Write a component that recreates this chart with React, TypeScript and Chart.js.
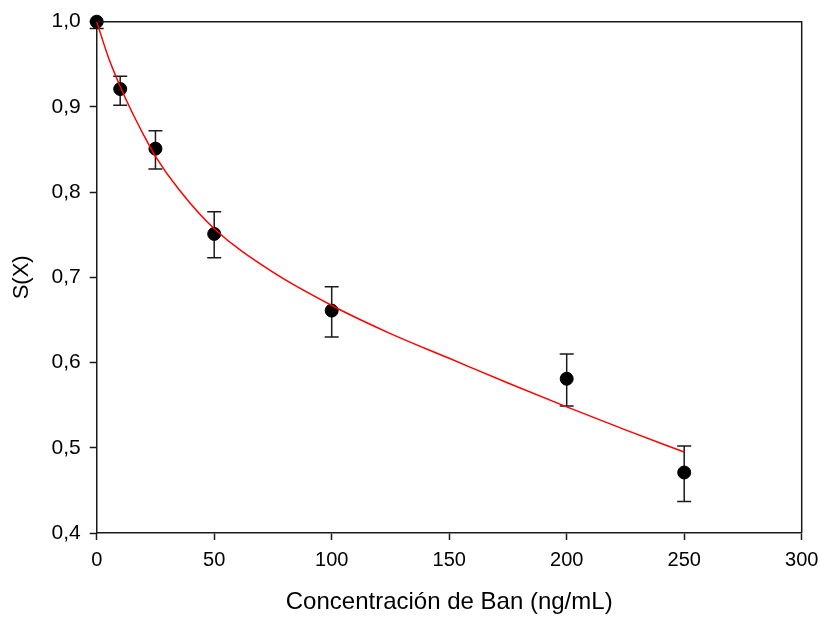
import React, { useEffect, useRef } from "react";
import { Chart, registerables } from "chart.js";

Chart.register(...registerables);

// Measured data (concentration in ng/mL)
const concentrations = [0, 10, 25, 50, 100, 200, 250];
const meanValues = [1.0, 0.921, 0.851, 0.751, 0.661, 0.581, 0.471];
const errUpper = [1.0, 0.936, 0.872, 0.777, 0.689, 0.61, 0.502];
const errLower = [0.992, 0.902, 0.827, 0.723, 0.63, 0.549, 0.437];

// Fitted curve
const fitX = [0, 5, 10, 15, 20, 25, 35, 50, 75, 100, 125, 150, 175, 200, 225, 250];
const fitY = [1.0, 0.958, 0.924, 0.894, 0.867, 0.842, 0.803, 0.757, 0.706, 0.667, 0.634, 0.605, 0.576, 0.548, 0.521, 0.495];

const xTicks = [0, 50, 100, 150, 200, 250, 300];
const yTickLabels = ["0,4", "0,5", "0,6", "0,7", "0,8", "0,9", "1,0"];

const FONT = "'Liberation Sans', Arial, sans-serif";

const errorBarPlugin = {
  id: "errorBars",
  beforeDatasetsDraw(chart: any) {
    const { ctx, scales } = chart;
    const xs = scales.x;
    const ys = scales.y;
    ctx.save();
    ctx.strokeStyle = "#1a1a1a";
    ctx.lineWidth = 1.5;
    const cap = 7;
    for (let i = 0; i < concentrations.length; i++) {
      const px = xs.getPixelForValue(concentrations[i]);
      const pu = ys.getPixelForValue(errUpper[i]);
      const pl = ys.getPixelForValue(errLower[i]);
      ctx.beginPath();
      ctx.moveTo(px, pu);
      ctx.lineTo(px, pl);
      if (errUpper[i] !== meanValues[i]) {
        ctx.moveTo(px - cap, pu);
        ctx.lineTo(px + cap, pu);
      }
      ctx.moveTo(px - cap, pl);
      ctx.lineTo(px + cap, pl);
      ctx.stroke();
    }
    ctx.restore();
  },
};

const framePlugin = {
  id: "frame",
  afterDraw(chart: any) {
    const { ctx, chartArea } = chart;
    ctx.save();
    ctx.strokeStyle = "#1a1a1a";
    ctx.lineWidth = 1.5;
    ctx.beginPath();
    ctx.moveTo(chartArea.left, chartArea.top);
    ctx.lineTo(chartArea.right, chartArea.top);
    ctx.lineTo(chartArea.right, chartArea.bottom);
    ctx.stroke();
    ctx.restore();
  },
};

export default function App() {
  const canvasRef = useRef<HTMLCanvasElement | null>(null);

  useEffect(() => {
    if (!canvasRef.current) return;
    const chart = new Chart(canvasRef.current, {
      type: "scatter",
      data: {
        datasets: [
          {
            type: "line",
            label: "fit",
            data: fitX.map((x, i) => ({ x, y: fitY[i] })),
            borderColor: "#ff0000",
            borderWidth: 1.5,
            pointRadius: 0,
            cubicInterpolationMode: "monotone",
            fill: false,
            order: 0,
            clip: false,
          } as any,
          {
            type: "scatter",
            label: "S(X)",
            data: concentrations.map((x, i) => ({ x, y: meanValues[i] })),
            backgroundColor: "#000000",
            borderColor: "#000000",
            pointRadius: 6.5,
            pointHoverRadius: 6.5,
            order: 1,
            clip: false,
          } as any,
        ],
      },
      options: {
        animation: false,
        responsive: false,
        devicePixelRatio: 1,
        layout: { padding: { left: 0, right: 18.3, top: 21.7, bottom: 0 } },
        plugins: {
          legend: { display: false },
          tooltip: { enabled: false },
        },
        scales: {
          x: {
            type: "linear",
            min: 0,
            max: 300,
            afterBuildTicks: (scale: any) => {
              scale.ticks = xTicks.map((v) => ({ value: v }));
            },
            ticks: {
              color: "#000",
              font: { family: FONT, size: 20 },
              padding: 8,
              maxRotation: 0,
              callback: (v: any) => String(v),
            },
            grid: {
              display: true,
              drawOnChartArea: false,
              drawTicks: true,
              tickLength: 7,
              tickWidth: 1.5,
              tickColor: "#1a1a1a",
            },
            border: { display: true, color: "#1a1a1a", width: 1.5 },
            title: {
              display: true,
              text: "Concentración de Ban (ng/mL)",
              color: "#000",
              font: { family: FONT, size: 24 },
              padding: { top: 0, bottom: 0 },
            },
            afterFit: (scale: any) => {
              scale.height = 84;
              scale.paddingLeft = 0;
              scale.paddingRight = 0;
            },
          },
          y: {
            type: "linear",
            min: 0.4,
            max: 1.0,
            ticks: {
              stepSize: 0.1,
              color: "#000",
              font: { family: FONT, size: 21 },
              padding: 9,
              callback: (_v: any, index: number) => yTickLabels[index],
            },
            grid: {
              display: true,
              drawOnChartArea: false,
              drawTicks: true,
              tickLength: 7,
              tickWidth: 1.5,
              tickColor: "#1a1a1a",
            },
            border: { display: true, color: "#1a1a1a", width: 1.5 },
            title: {
              display: true,
              text: "S(X)",
              color: "#000",
              font: { family: FONT, size: 22 },
              padding: { top: 9, bottom: 0 },
            },
            afterFit: (scale: any) => {
              scale.width = 96.7;
              scale.paddingTop = 0;
              scale.paddingBottom = 0;
            },
          },
        },
      },
      plugins: [errorBarPlugin, framePlugin],
    });
    return () => chart.destroy();
  }, []);

  return (
    <div style={{ position: "absolute", left: 0, top: 0, width: 820, height: 617, background: "#fff" }}>
      <canvas ref={canvasRef} width={820} height={617} />
    </div>
  );
}
